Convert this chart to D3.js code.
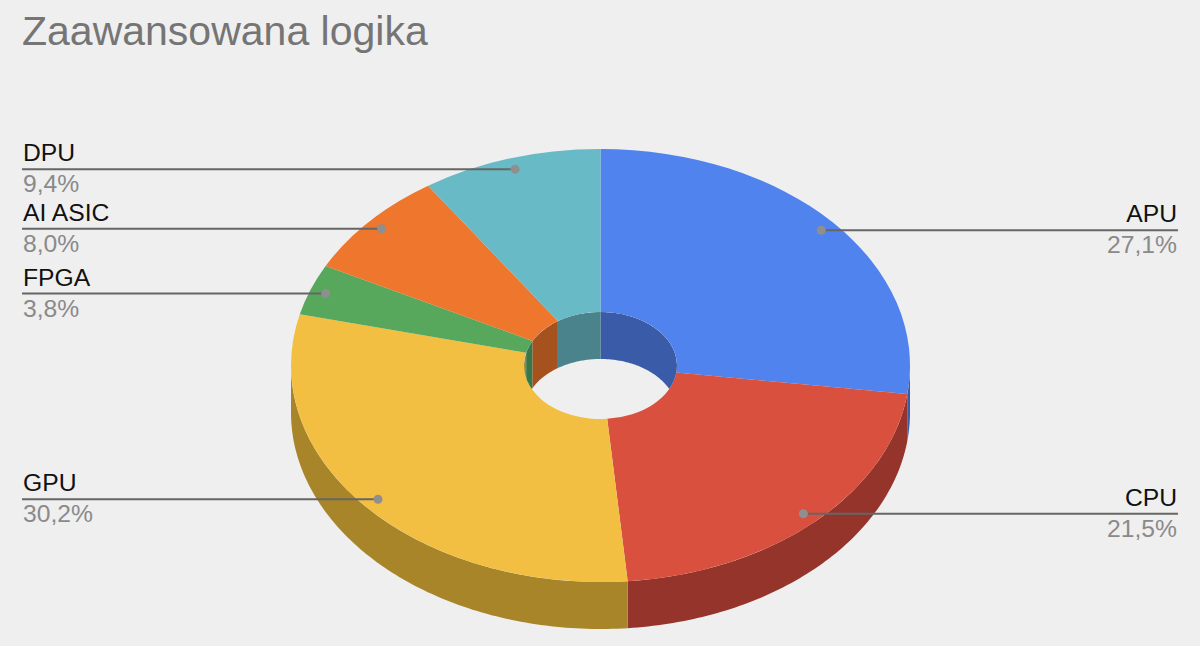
<!DOCTYPE html>
<html>
<head>
<meta charset="utf-8">
<script src="https://cdn.jsdelivr.net/npm/d3@7"></script>
<style>
  html, body { margin: 0; padding: 0; background: #efefef; }
  svg { display: block; }
  text { font-family: "Liberation Sans", Arial, sans-serif; }
</style>
</head>
<body>
<svg width="1200" height="646"></svg>
<script>
const title = "Zaawansowana logika";
const categories = ["APU", "CPU", "GPU", "FPGA", "AI ASIC", "DPU"];
const shares = [27.1, 21.5, 30.2, 3.8, 8.0, 9.4];

const topColors = ["#5083ee", "#d9503f", "#f2bf42", "#57a85c", "#ee762d", "#68bbc6"];
const wallColors = ["#3a5ba8", "#95342a", "#a88529", "#37784a", "#a5521e", "#4a838c"];

// pie geometry
const cx = 600.5, cy = 365.5, rx = 309.5, ry = 216.5, holeRx = 76.5, depth = 47;
const squash = ry / rx;
const labelRadius = 0.948;
const leftX = 22, rightX = 1178;

const svg = d3.select("svg");

svg.append("text")
  .attr("x", leftX).attr("y", 45)
  .attr("font-size", 41).attr("fill", "#757575")
  .text(title);

const slices = d3.pie().sort(null)(shares);

// point on an ellipse, angle clockwise from the top like d3.arc
const px = (a, r) => cx + r * Math.sin(a);
const py = (a, r, dz) => cy - r * squash * Math.cos(a) + dz;

// band between the top rim and the same rim moved down by depth
function wallPath(a0, a1, r) {
  const n = Math.max(2, Math.ceil((a1 - a0) * 60));
  const steps = d3.range(n + 1).map(i => a0 + (a1 - a0) * i / n);
  const line = d3.line();
  const upper = steps.map(a => [px(a, r), py(a, r, 0)]);
  const lower = steps.slice().reverse().map(a => [px(a, r), py(a, r, depth)]);
  return line(upper.concat(lower)) + "Z";
}

// outer wall shows on the front half only
const outer = svg.append("g");
slices.forEach((s, i) => {
  const a0 = Math.max(s.startAngle, Math.PI / 2);
  const a1 = Math.min(s.endAngle, 3 * Math.PI / 2);
  if (a1 <= a0) return;
  outer.append("path").attr("d", wallPath(a0, a1, rx)).attr("fill", wallColors[i]);
});

// top face
const arc = d3.arc().innerRadius(holeRx).outerRadius(rx);
svg.append("g")
  .attr("transform", `translate(${cx},${cy}) scale(1,${squash})`)
  .selectAll("path")
  .data(slices)
  .enter()
  .append("path")
  .attr("d", arc)
  .attr("fill", (d, i) => topColors[i]);

// inner wall shows on the back half of the hole
svg.append("clipPath").attr("id", "hole")
  .append("ellipse")
  .attr("cx", cx).attr("cy", cy)
  .attr("rx", holeRx).attr("ry", holeRx * squash);

const inner = svg.append("g").attr("clip-path", "url(#hole)");
slices.forEach((s, i) => {
  [[-Math.PI / 2, Math.PI / 2], [3 * Math.PI / 2, 5 * Math.PI / 2]].forEach(w => {
    const a0 = Math.max(s.startAngle, w[0]);
    const a1 = Math.min(s.endAngle, w[1]);
    if (a1 <= a0) return;
    inner.append("path").attr("d", wallPath(a0, a1, holeRx)).attr("fill", wallColors[i]);
  });
});

// leader lines and labels
const labels = svg.append("g");
slices.forEach((s, i) => {
  const mid = (s.startAngle + s.endAngle) / 2;
  const x = px(mid, rx * labelRadius);
  const y = py(mid, rx * labelRadius, 0);
  const onRight = mid < Math.PI;
  const edge = onRight ? rightX : leftX;
  const pad = onRight ? rightX - 1 : leftX + 1;
  const anchor = onRight ? "end" : "start";

  labels.append("line")
    .attr("x1", x).attr("y1", y).attr("x2", edge).attr("y2", y)
    .attr("stroke", "#666").attr("stroke-width", 2);
  labels.append("circle")
    .attr("cx", x).attr("cy", y).attr("r", 4.5).attr("fill", "#8f8f8f");
  labels.append("text")
    .attr("x", pad).attr("y", y - 8)
    .attr("text-anchor", anchor).attr("font-size", 24.7).attr("fill", "#111")
    .text(categories[i]);
  labels.append("text")
    .attr("x", pad).attr("y", y + 23)
    .attr("text-anchor", anchor).attr("font-size", 24.7).attr("fill", "#8a8a8a")
    .text(shares[i].toFixed(1).replace(".", ",") + "%");
});
</script>
</body>
</html>
